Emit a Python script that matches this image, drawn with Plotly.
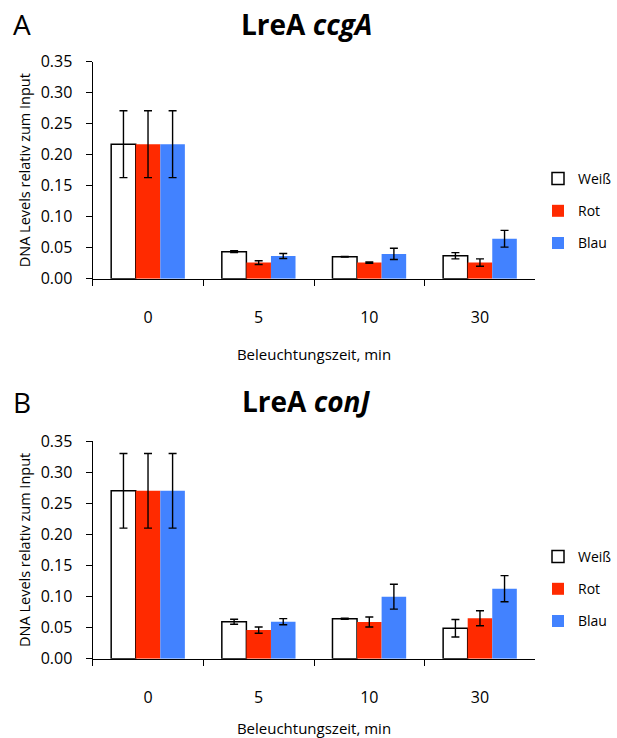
import plotly.graph_objects as go

categories = ["0", "5", "10", "30"]
series_names = ["Weiß", "Rot", "Blau"]

# Panel A: LreA ccgA
a_weiss = [0.217, 0.0435, 0.0355, 0.037]
a_rot = [0.217, 0.026, 0.026, 0.026]
a_blau = [0.217, 0.0366, 0.040, 0.0645]
a_weiss_err = [0.054, 0.0015, 0.0005, 0.005]
a_rot_err = [0.054, 0.003, 0.001, 0.006]
a_blau_err = [0.054, 0.004, 0.009, 0.0135]

# Panel B: LreA conJ
b_weiss = [0.270, 0.0595, 0.0643, 0.049]
b_rot = [0.270, 0.046, 0.059, 0.065]
b_blau = [0.270, 0.0595, 0.0997, 0.1125]
b_weiss_err = [0.06, 0.004, 0.001, 0.014]
b_rot_err = [0.06, 0.005, 0.008, 0.012]
b_blau_err = [0.06, 0.005, 0.020, 0.021]

FONT = "Open Sans"
colors = ["#FFFFFF", "#FF2A00", "#4282FF"]
line_w = [1.5, 0, 0]

fig = go.Figure()

panels = [
    ([a_weiss, a_rot, a_blau], [a_weiss_err, a_rot_err, a_blau_err], "x", "y", "legend"),
    ([b_weiss, b_rot, b_blau], [b_weiss_err, b_rot_err, b_blau_err], "x2", "y2", "legend2"),
]
for vals, errs, xa, ya, lg in panels:
    for i in range(3):
        fig.add_trace(go.Bar(
            x=categories, y=vals[i], name=series_names[i],
            xaxis=xa, yaxis=ya, legend=lg, legendgroup=lg + series_names[i],
            marker=dict(color=colors[i], line=dict(color="black", width=line_w[i])),
            error_y=dict(type="data", array=errs[i], visible=True,
                         color="black", thickness=1.4, width=4),
        ))

xdom = [92.7 / 617, 535.3 / 617]
ydomA = [1 - 278.7 / 738, 1 - 61.7 / 738]
ydomB = [1 - 658.7 / 738, 1 - 441 / 738]

xcommon = dict(showline=True, linecolor="black", linewidth=1.3, ticks="outside",
               tickson="boundaries", ticklen=6, tickcolor="black", tickwidth=1.3,
               showgrid=False, zeroline=False, ticklabelstandoff=24, automargin=False,
               tickfont=dict(family=FONT, size=16, color="black"),
               title=dict(text="Beleuchtungszeit, min", standoff=22,
                          font=dict(family=FONT, size=15, color="black")))
ycommon = dict(showline=True, linecolor="black", linewidth=1.3, ticks="outside",
               ticklen=6, tickcolor="black", tickwidth=1.3, showgrid=False,
               zeroline=False, range=[0, 0.35], dtick=0.05, tickformat=".2f",
               ticklabelstandoff=10, automargin=False,
               tickfont=dict(family=FONT, size=16, color="black"),
               title=dict(text="DNA Levels relativ zum Input", standoff=6,
                          font=dict(family=FONT, size=14.5, color="black")))

legcommon = dict(font=dict(family=FONT, size=14, color="black"), tracegroupgap=11,
                 xanchor="right", yanchor="top", bgcolor="rgba(0,0,0,0)",
                 itemwidth=30, borderwidth=0)

fig.update_layout(
    width=617, height=738,
    margin=dict(l=0, r=0, t=0, b=0, autoexpand=False),
    paper_bgcolor="white", plot_bgcolor="white",
    barmode="group", bargap=0.334, bargroupgap=0,
    xaxis=dict(domain=xdom, anchor="y", **xcommon),
    yaxis=dict(domain=ydomA, anchor="x", **ycommon),
    xaxis2=dict(domain=xdom, anchor="y2", **xcommon),
    yaxis2=dict(domain=ydomB, anchor="x2", **ycommon),
    legend=dict(x=1, y=1 - 163 / 738, **legcommon),
    legend2=dict(x=1, y=1 - 541 / 738, **legcommon),
    annotations=[
        dict(text="<b>LreA <i>ccgA</i></b>", x=306 / 617, y=1 - 24 / 738,
             xref="paper", yref="paper", showarrow=False, xanchor="center", yanchor="middle",
             font=dict(family=FONT, size=28, color="black")),
        dict(text="A", x=22 / 617, y=1 - 24 / 738, xref="paper", yref="paper",
             showarrow=False, xanchor="center", yanchor="middle",
             font=dict(family=FONT, size=28, color="black")),
        dict(text="<b>LreA <i>conJ</i></b>", x=306 / 617, y=1 - 401 / 738,
             xref="paper", yref="paper", showarrow=False, xanchor="center", yanchor="middle",
             font=dict(family=FONT, size=28, color="black")),
        dict(text="B", x=22 / 617, y=1 - 402 / 738, xref="paper", yref="paper",
             showarrow=False, xanchor="center", yanchor="middle",
             font=dict(family=FONT, size=28, color="black")),
    ],
)

fig.write_html("out.html", config={"displayModeBar": False},
               post_script="document.body.style.margin='0px';document.body.style.overflow='hidden';")
